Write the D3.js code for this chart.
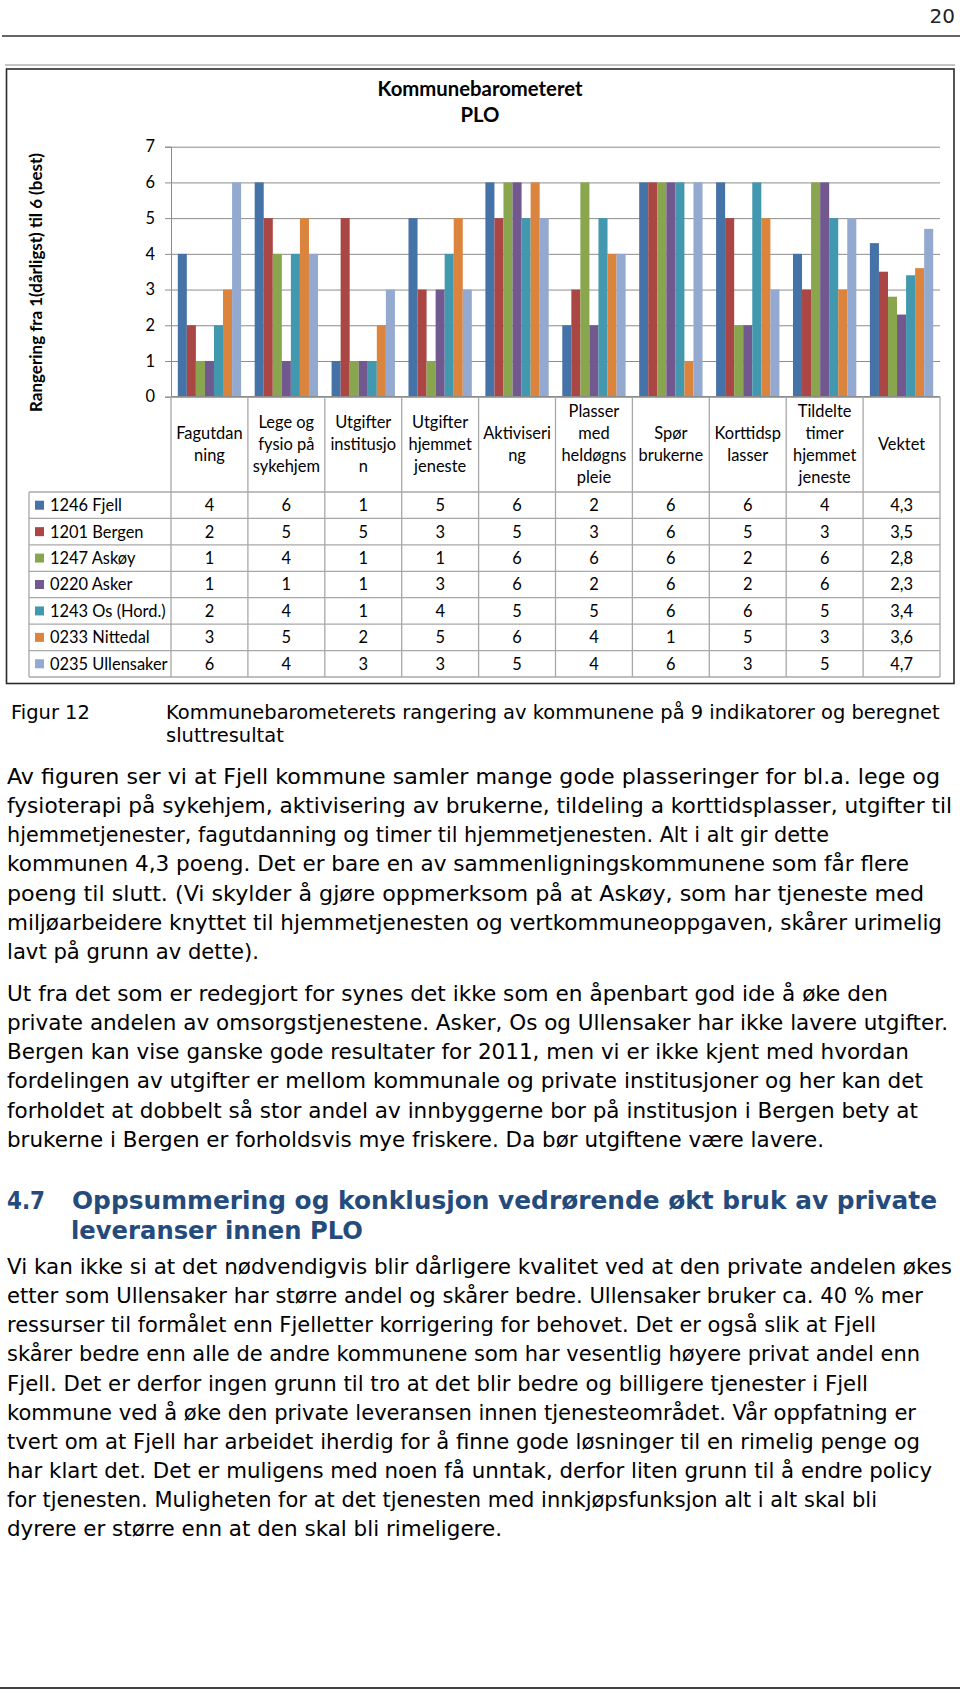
<!DOCTYPE html>
<html><head><meta charset="utf-8">
<script src="https://cdn.jsdelivr.net/npm/d3@7/dist/d3.min.js"></script>
<style>body{margin:0;background:#fff}svg{display:block}</style>
</head><body>
<svg id="c" width="960" height="1693"></svg>
<script>
// ---------- DATA ----------
const categories = ["Fagutdanning","Lege og fysio på sykehjem","Utgifter institusjon","Utgifter hjemmetjeneste","Aktivisering","Plasser med heldøgns pleie","Spør brukerne","Korttidsplasser","Tildelte timer hjemmetjeneste","Vektet"];
const categoryLines = [["Fagutdan","ning"],["Lege og","fysio på","sykehjem"],["Utgifter","institusjo","n"],["Utgifter","hjemmet","jeneste"],["Aktiviseri","ng"],["Plasser","med","heldøgns","pleie"],["Spør","brukerne"],["Korttidsp","lasser"],["Tildelte","timer","hjemmet","jeneste"],["Vektet"]];
const seriesNames = ["1246 Fjell","1201 Bergen","1247 Askøy","0220 Asker","1243 Os (Hord.)","0233 Nittedal","0235 Ullensaker"];
const fjell      = [4,6,1,5,6,2,6,6,4,4.3];
const bergen     = [2,5,5,3,5,3,6,5,3,3.5];
const askoy      = [1,4,1,1,6,6,6,2,6,2.8];
const asker      = [1,1,1,3,6,2,6,2,6,2.3];
const os         = [2,4,1,4,5,5,6,6,5,3.4];
const nittedal   = [3,5,2,5,6,4,1,5,3,3.6];
const ullensaker = [6,4,3,3,5,4,6,3,5,4.7];
const seriesValues = [fjell,bergen,askoy,asker,os,nittedal,ullensaker];
const seriesColors = ["#4572A7","#AA4643","#89A54E","#71588F","#4198AF","#DB843D","#93A9CF"];
const yTicks = [0,1,2,3,4,5,6,7];
const chartTitle = ["Kommunebarometeret","PLO"];
const yTitle = "Rangering fra 1(dårligst) til 6 (best)";
const pageNumber = "20";
const captionLabel = "Figur 12";
const captionLines = ["Kommunebarometerets rangering av kommunene på 9 indikatorer og beregnet","sluttresultat"];
const para1 = ["Av figuren ser vi at Fjell kommune samler mange gode plasseringer for bl.a. lege og",
"fysioterapi på sykehjem, aktivisering av brukerne, tildeling a korttidsplasser, utgifter til",
"hjemmetjenester, fagutdanning og timer til hjemmetjenesten. Alt i alt gir dette",
"kommunen 4,3 poeng. Det er bare en av sammenligningskommunene som får flere",
"poeng til slutt. (Vi skylder å gjøre oppmerksom på at Askøy, som har tjeneste med",
"miljøarbeidere knyttet til hjemmetjenesten og vertkommuneoppgaven, skårer urimelig",
"lavt på grunn av dette)."];
const para2 = ["Ut fra det som er redegjort for synes det ikke som en åpenbart god ide å øke den",
"private andelen av omsorgstjenestene. Asker, Os og Ullensaker har ikke lavere utgifter.",
"Bergen kan vise ganske gode resultater for 2011, men vi er ikke kjent med hvordan",
"fordelingen av utgifter er mellom kommunale og private institusjoner og her kan det",
"forholdet at dobbelt så stor andel av innbyggerne bor på institusjon i Bergen bety at",
"brukerne i Bergen er forholdsvis mye friskere. Da bør utgiftene være lavere."];
const headingNum = "4.7";
const headingLines = ["Oppsummering og konklusjon vedrørende økt bruk av private","leveranser innen PLO"];
const para3 = ["Vi kan ikke si at det nødvendigvis blir dårligere kvalitet ved at den private andelen økes",
"etter som Ullensaker har større andel og skårer bedre. Ullensaker bruker ca. 40 % mer",
"ressurser til formålet enn Fjelletter korrigering for behovet. Det er også slik at Fjell",
"skårer bedre enn alle de andre kommunene som har vesentlig høyere privat andel enn",
"Fjell. Det er derfor ingen grunn til tro at det blir bedre og billigere tjenester i Fjell",
"kommune ved å øke den private leveransen innen tjenesteområdet. Vår oppfatning er",
"tvert om at Fjell har arbeidet iherdig for å finne gode løsninger til en rimelig penge og",
"har klart det. Det er muligens med noen få unntak, derfor liten grunn til å endre policy",
"for tjenesten. Muligheten for at det tjenesten med innkjøpsfunksjon alt i alt skal bli",
"dyrere er større enn at den skal bli rimeligere."];
// right ends of the text lines as read from the page (layout, px)
const para1Ends = [940,952,829,909,924,942,259];
const para2Ends = [888,948,909,923,918,824];
const para3Ends = [952,923,876,920,868,916,920,932,877,502];

// ---------- LAYOUT ----------
const svg = d3.select("#c");
const chartFont = "Lato, 'Open Sans', sans-serif";
const bodyFont = "'DejaVu Sans', Verdana, sans-serif";
const plot = {left:171, right:940, top:146.7, bottom:396.7};
const tableTop = plot.bottom, headerBottom = 492, tableBottom = 677, legendLeft = 29;

function fit(sel, target){
  const w = sel.node().getComputedTextLength();
  const fs = parseFloat(sel.attr("font-size"));
  const nf = fs*target/w;
  sel.attr("font-size", nf);
  return nf;
}

// page header
svg.append("line").attr("x1",2).attr("x2",960).attr("y1",36).attr("y2",36).attr("stroke","#333").attr("stroke-width",1.5);
svg.append("text").text(pageNumber).attr("x",955).attr("y",23).attr("text-anchor","end")
  .attr("font-family",bodyFont).attr("font-size",20).attr("fill","#222");

// chart frame
svg.append("line").attr("x1",5).attr("x2",955).attr("y1",65).attr("y2",65).attr("stroke","#b0b0b0").attr("stroke-width",1.5);
svg.append("rect").attr("x",6.5).attr("y",69).attr("width",947.5).attr("height",614.5)
  .attr("fill","none").attr("stroke","#2a2a2a").attr("stroke-width",1.6);

// measure table font
const probe = svg.append("text").text("0235 Ullensaker").attr("font-family",chartFont).attr("font-size",16);
const tfs = fit(probe, 117.7);
probe.remove();
const capH = tfs*0.72;

// title
const t1 = svg.append("text").text(chartTitle[0]).attr("x",480).attr("y",96).attr("text-anchor","middle")
  .attr("font-family",chartFont).attr("font-weight","bold").attr("font-size",20).attr("fill","#000");
const titleFs = fit(t1, 205);
svg.append("text").text(chartTitle[1]).attr("x",480).attr("y",122).attr("text-anchor","middle")
  .attr("font-family",chartFont).attr("font-weight","bold").attr("font-size",titleFs).attr("fill","#000");

// y title
const yt = svg.append("text").text(yTitle).attr("transform","translate(42,282.5) rotate(-90)")
  .attr("text-anchor","middle").attr("font-family",chartFont).attr("font-weight","bold").attr("font-size",16).attr("fill","#000");
fit(yt, 259);

// scales
const x0 = d3.scaleBand().domain(categories).range([plot.left, plot.right]).paddingInner(0).paddingOuter(0);
const x1 = d3.scaleBand().domain(seriesNames).range([0, x0.bandwidth()]).paddingInner(0).paddingOuter(0.75);
const y = d3.scaleLinear().domain([0,7]).range([plot.bottom, plot.top]);
const rowY = d3.scaleBand().domain(seriesNames).range([headerBottom, tableBottom]);
const color = d3.scaleOrdinal().domain(seriesNames).range(seriesColors);

// gridlines
const grid = svg.append("g").attr("transform",`translate(${plot.left},0)`)
  .call(d3.axisLeft(y).tickValues(yTicks).tickSize(-(plot.right-plot.left)).tickFormat(""));
grid.selectAll("line").attr("stroke","#8c8c8c").attr("stroke-width",1);
grid.select(".domain").remove();

// y axis
const ya = svg.append("g").attr("transform",`translate(${plot.left},0)`)
  .call(d3.axisLeft(y).tickValues(yTicks).tickSize(6).tickPadding(10).tickFormat(d3.format("d")));
ya.select(".domain").attr("stroke","#8c8c8c");
ya.selectAll(".tick line").attr("stroke","#8c8c8c");
ya.selectAll("text").attr("font-family",chartFont).attr("font-size",tfs).attr("fill","#000");

// bars
const groups = svg.append("g").selectAll("g").data(seriesNames).join("g").attr("fill",d=>color(d));
groups.selectAll("rect").data((s,i)=>seriesValues[i].map((v,j)=>({s,v,c:categories[j]})))
  .join("rect")
  .attr("x",d=>x0(d.c)+x1(d.s)).attr("width",x1.bandwidth())
  .attr("y",d=>y(d.v)).attr("height",d=>y(0)-y(d.v));

// data table lines
const tl = svg.append("g").attr("stroke","#a8a8a8").attr("stroke-width",1.3);
tl.append("line").attr("x1",plot.left).attr("x2",plot.right).attr("y1",tableTop).attr("y2",tableTop).attr("stroke","#8c8c8c");
[...seriesNames.map(s=>rowY(s)), tableBottom].forEach(yy=>{
  tl.append("line").attr("x1",legendLeft).attr("x2",plot.right).attr("y1",yy).attr("y2",yy);
});
[...categories.map(c=>x0(c)), plot.right].forEach(xx=>{
  tl.append("line").attr("x1",xx).attr("x2",xx).attr("y1",tableTop).attr("y2",tableBottom);
});
tl.append("line").attr("x1",legendLeft).attr("x2",legendLeft).attr("y1",headerBottom).attr("y2",tableBottom);

// category labels
const hc = (tableTop+headerBottom)/2, lh = 22;
categories.forEach((c,i)=>{
  const lines = categoryLines[i];
  lines.forEach((ln,k)=>{
    svg.append("text").text(ln).attr("x",x0(c)+x0.bandwidth()/2)
      .attr("y",hc + (k-(lines.length-1)/2)*lh + capH/2)
      .attr("text-anchor","middle").attr("font-family",chartFont).attr("font-size",tfs).attr("fill","#000");
  });
});

// legend + values
const fmt = v => Number.isInteger(v) ? String(v) : String(v).replace(".",",");
seriesNames.forEach((s,i)=>{
  const cy = rowY(s)+rowY.bandwidth()/2;
  svg.append("rect").attr("x",35).attr("y",cy-4.5).attr("width",9).attr("height",9).attr("fill",color(s));
  svg.append("text").text(s).attr("x",50).attr("y",cy+capH/2).attr("font-family",chartFont).attr("font-size",tfs).attr("fill","#000");
  seriesValues[i].forEach((v,j)=>{
    svg.append("text").text(fmt(v)).attr("x",x0(categories[j])+x0.bandwidth()/2).attr("y",cy+capH/2)
      .attr("text-anchor","middle").attr("font-family",chartFont).attr("font-size",tfs).attr("fill","#000");
  });
});

// caption
const cap = svg.append("g").attr("font-family",bodyFont).attr("fill","#000");
const cl1 = cap.append("text").text(captionLines[0]).attr("x",166).attr("y",719.3).attr("font-size",17);
const cfs = fit(cl1, 774);
cap.append("text").text(captionLines[1]).attr("x",166).attr("y",741.7).attr("font-size",cfs);
cap.append("text").text(captionLabel).attr("x",11).attr("y",719.3).attr("font-size",cfs);

// body text
const bodyG = svg.append("g").attr("font-family",bodyFont).attr("fill","#000");
const probe2 = bodyG.append("text").text(para1[1]).attr("font-size",19);
const bfs = fit(probe2, 945);
probe2.remove();
const ls = 29.15, bx = 7;
function para(lines, ends, y0){
  lines.forEach((ln,k)=>{
    const t = bodyG.append("text").text(ln).attr("x",bx).attr("y",y0+k*ls).attr("font-size",bfs);
    const w = t.node().getComputedTextLength(), target = ends[k]-bx;
    if (Math.abs(w-target)/target < 0.08) t.attr("textLength",target).attr("lengthAdjust","spacingAndGlyphs");
  });
}
para(para1, para1Ends, 784);
para(para2, para2Ends, 1001);
para(para3, para3Ends, 1274);

// heading
const hg = svg.append("g").attr("font-family","'DejaVu Sans', sans-serif").attr("font-weight","bold").attr("fill","#244B7C");
hg.append("text").text(headingNum).attr("x",7).attr("y",1208.5).attr("font-size",25).attr("textLength",38).attr("lengthAdjust","spacingAndGlyphs");
hg.append("text").text(headingLines[0]).attr("x",72).attr("y",1208.5).attr("font-size",25).attr("textLength",865).attr("lengthAdjust","spacingAndGlyphs");
hg.append("text").text(headingLines[1]).attr("x",71).attr("y",1238.5).attr("font-size",25).attr("textLength",292).attr("lengthAdjust","spacingAndGlyphs");

// bottom rule
svg.append("line").attr("x1",0).attr("x2",960).attr("y1",1688).attr("y2",1688).attr("stroke","#444").attr("stroke-width",2);
</script>
</body></html>
